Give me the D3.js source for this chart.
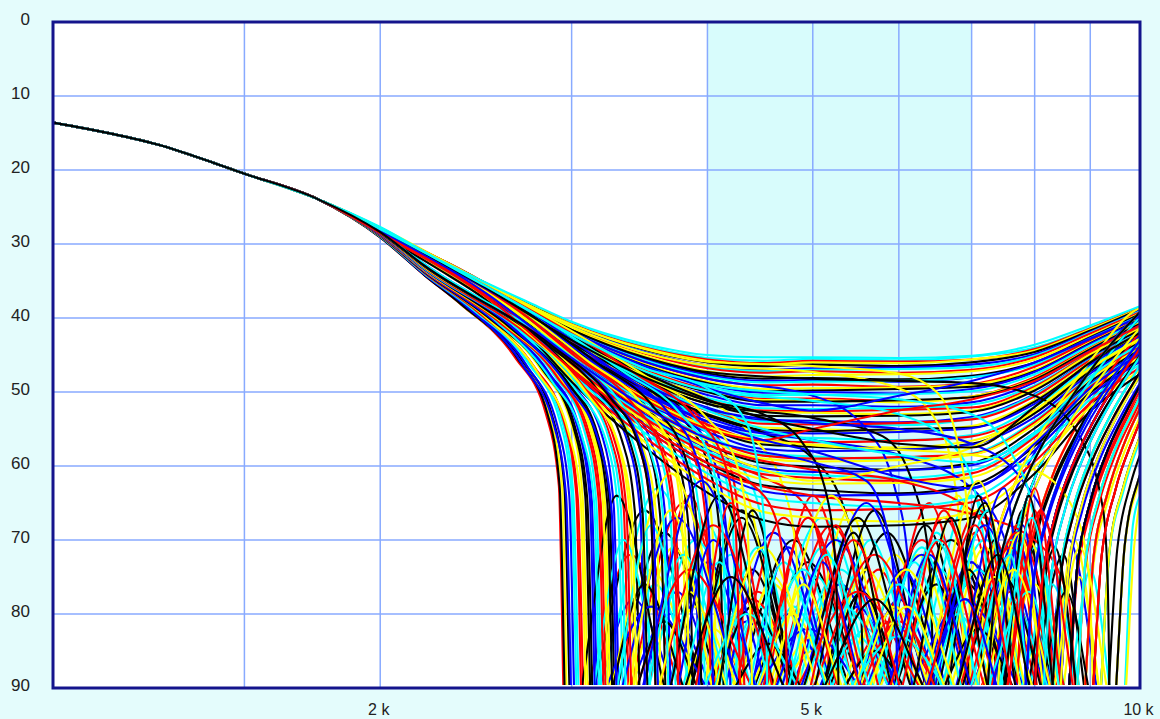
<!DOCTYPE html>
<html>
<head>
<meta charset="utf-8">
<script src="https://cdn.jsdelivr.net/npm/d3@7"></script>
<style>
  html, body { margin: 0; padding: 0; background: #e4fcfc; }
  svg { display: block; }
  .tick-y { font-family: 'Liberation Sans', Arial, sans-serif; font-size: 17px; fill: #222; }
  .tick-x { font-family: 'Liberation Sans', Arial, sans-serif; font-size: 16px; fill: #222; }
</style>
</head>
<body>
<div id="chart"></div>
<script>
// attenuation in dB (0 at top), frequency in kHz on a log axis
const yTicks = [0, 10, 20, 30, 40, 50, 60, 70, 80, 90];
const xTicks = [2, 5, 10];
const xTickLabels = ['2 k', '5 k', '10 k'];
const gridKHz = [1.5, 2, 3, 4, 5, 6, 7, 8, 9];
const bandKHz = [4, 7];
const palette = ['#ff0000', '#0000ff', '#ffff00', '#00ffff', '#000000'];

// shared passband part (all runs overlap here)
const headKHz = [1.0, 1.25, 1.5, 1.75];
const headDb = [13.6, 16.6, 20.5, 23.9];

// runs without a notch in view
const smoothKHz = [2.0, 2.25, 2.5, 2.75, 3.0, 3.5, 4.0, 4.5, 5.0, 6.0, 7.0, 8.0, 9.0, 10.0];
const smoothDb = [
  [27.7,31.9,35.2,38.0,40.5,43.5,45.0,45.3,45.3,45.4,45.1,43.6,41.0,38.4],
  [27.8,32.0,35.3,38.1,40.7,43.8,45.4,45.8,45.5,45.7,45.2,44.0,41.3,38.5],
  [27.8,32.0,35.3,38.2,40.8,44.0,45.6,46.1,45.8,45.9,45.6,44.2,41.4,38.6],
  [27.8,32.1,35.3,38.2,40.9,44.1,45.8,46.3,46.0,46.1,45.6,44.4,41.5,38.7],
  [27.9,32.1,35.3,38.3,41.0,44.3,46.0,46.5,46.3,46.5,46.0,44.6,41.7,38.8],
  [27.9,32.1,35.4,38.4,41.1,44.6,46.4,47.0,46.8,46.7,46.3,44.9,41.9,39.0],
  [27.9,32.1,35.4,38.4,41.2,44.7,46.6,47.2,47.0,46.9,46.6,45.1,42.0,39.1],
  [27.9,32.1,35.4,38.4,41.3,44.8,46.8,47.4,47.2,47.4,47.0,45.3,42.1,39.2],
  [27.9,32.1,35.5,38.5,41.4,45.1,47.2,47.9,47.7,47.6,47.2,45.6,42.4,39.4],
  [28.0,32.2,35.5,38.6,41.6,45.4,47.5,48.2,48.1,48.3,47.8,46.0,42.6,39.5],
  [27.9,32.2,35.5,38.7,41.7,45.5,47.7,48.5,48.4,48.6,48.0,46.2,42.7,39.7],
  [28.0,32.2,35.6,38.7,41.8,45.7,47.9,48.7,48.6,48.5,48.0,46.3,42.8,39.7],
  [28.0,32.2,35.6,38.8,41.9,45.9,48.2,49.1,49.0,49.3,48.9,46.6,43.0,39.9],
  [28.0,32.2,35.7,38.9,42.1,46.2,48.6,49.6,49.5,49.4,49.0,47.0,43.3,40.1],
  [28.0,32.2,35.7,39.0,42.2,46.4,48.8,49.9,49.8,49.6,49.3,47.2,43.4,40.2],
  [28.0,32.3,35.7,39.0,42.3,46.5,49.0,50.1,50.0,50.2,49.6,47.3,43.5,40.3],
  [28.1,32.3,35.7,39.1,42.4,46.7,49.3,50.4,50.4,50.3,49.9,47.6,43.7,40.5],
  [28.1,32.3,35.8,39.2,42.6,47.0,49.7,50.9,50.9,51.2,50.6,48.0,44.0,40.7],
  [28.0,32.3,35.8,39.2,42.6,47.2,49.9,51.1,51.1,51.4,50.6,48.2,44.1,40.7],
  [28.1,32.3,35.8,39.3,42.7,47.3,50.0,51.3,51.3,51.1,50.7,48.3,44.2,40.8],
  [28.1,32.3,35.9,39.4,42.9,47.6,50.4,51.8,51.8,52.0,51.4,48.7,44.4,41.0],
  [28.1,32.4,35.9,39.5,43.1,47.9,50.8,52.2,52.3,52.2,51.7,49.1,44.7,41.2],
  [28.1,32.4,36.0,39.5,43.2,48.1,51.1,52.5,52.6,52.4,52.1,49.3,44.8,41.3],
  [28.1,32.4,36.0,39.6,43.2,48.2,51.2,52.7,52.8,53.0,52.5,49.5,44.9,41.4],
  [28.1,32.4,36.0,39.7,43.4,48.5,51.6,53.2,53.3,53.2,52.7,49.8,45.2,41.6],
  [28.2,32.4,36.1,39.8,43.6,48.8,52.1,53.8,53.9,54.1,53.4,50.3,45.5,41.9],
  [28.2,32.5,36.1,39.8,43.7,49.0,52.3,54.0,54.1,54.5,53.6,50.4,45.6,41.9],
  [28.2,32.5,36.1,39.9,43.8,49.1,52.5,54.3,54.4,54.2,53.7,50.6,45.7,42.1],
  [28.2,32.5,36.2,40.0,44.0,49.5,53.0,54.8,55.0,55.3,54.6,51.1,46.0,42.3],
  [28.2,32.5,36.2,40.1,44.1,49.7,53.2,55.1,55.3,55.0,54.8,51.3,46.2,42.4],
  [28.2,32.5,36.3,40.1,44.2,49.9,53.5,55.4,55.6,55.4,54.9,51.6,46.3,42.5],
  [28.2,32.6,36.3,40.2,44.4,50.2,54.0,56.0,56.2,56.5,55.8,52.0,46.6,42.8],
  [28.3,32.6,36.4,40.4,44.6,50.6,54.4,56.6,56.8,56.6,56.0,52.5,46.9,43.0],
  [28.3,32.6,36.4,40.4,44.7,50.8,54.7,56.8,57.1,57.5,56.6,52.7,47.1,43.1],
  [28.3,32.6,36.4,40.5,44.8,50.9,54.9,57.1,57.4,57.8,57.0,52.9,47.2,43.3],
  [28.3,32.7,36.5,40.6,45.0,51.3,55.4,57.7,58.0,57.8,57.1,53.4,47.5,43.5],
  [28.3,32.7,36.6,40.7,45.3,51.7,56.0,58.4,58.7,59.1,58.3,53.9,47.9,43.8],
  [28.3,32.7,36.6,40.8,45.4,51.9,56.2,58.6,59.0,58.8,58.4,54.1,48.0,43.9],
  [28.4,32.7,36.6,40.9,45.5,52.1,56.5,59.0,59.4,59.2,58.5,54.4,48.2,44.1],
  [28.4,32.8,36.7,41.0,45.8,52.6,57.1,59.6,60.1,60.5,59.6,54.9,48.6,44.3],
  [28.4,32.8,36.8,41.2,46.0,53.0,57.6,60.3,60.8,60.6,59.9,55.5,48.9,44.6],
  [28.4,32.8,36.8,41.2,46.2,53.2,58.0,60.7,61.2,61.6,60.6,55.8,49.1,44.8],
  [28.5,32.8,36.9,41.3,46.3,53.5,58.3,61.1,61.6,62.0,61.0,56.1,49.3,45.0],
  [28.5,32.9,36.9,41.5,46.6,53.9,58.9,61.8,62.4,62.3,61.5,56.7,49.7,45.3],
  [28.5,32.9,37.0,41.6,46.9,54.4,59.6,62.6,63.2,63.7,62.6,57.3,50.1,45.6],
  [28.6,33.0,37.1,41.8,47.2,54.9,60.2,63.4,64.0,63.9,63.0,57.9,50.5,45.9],
  [28.6,33.0,37.2,42.0,47.5,55.5,61.0,64.3,65.0,65.5,64.3,58.6,51.0,46.3],
  [28.6,33.1,37.3,42.2,47.9,56.1,61.8,65.2,66.0,65.8,64.9,59.4,51.5,46.7],
  [28.7,33.1,37.4,42.4,48.2,56.7,62.6,66.2,67.0,67.5,66.2,60.1,52.0,47.1],
  [28.7,33.2,37.5,42.6,48.6,57.4,63.6,67.3,68.2,68.0,67.0,61.0,52.6,47.6],
  [28.0,32.2,35.6,38.8,42.0,46.5,49.5,51.5,52.5,50.5,48.5,46.0,42.8,39.8],
  [28.1,32.3,35.8,39.2,42.8,48.5,52.5,55.0,56.5,58.5,59.5,55.5,48.0,43.5],
  [28.2,32.5,36.2,40.2,44.5,51.0,55.0,56.5,55.0,52.5,51.0,48.5,44.5,41.0],
  [28.3,32.6,36.4,40.6,45.2,52.5,57.5,60.5,62.0,60.0,57.5,52.5,46.8,42.8],
  [28.1,32.3,35.7,39.0,42.5,47.5,51.0,53.5,55.0,57.0,57.5,52.0,46.0,42.0],
  [28.2,32.4,36.0,39.7,43.8,50.0,54.0,56.5,58.0,61.5,63.0,57.0,49.5,44.8]
];

// runs with notches, flat kHz,dB pairs; 93..98 = notch floor below the visible range
const notchRuns = [
  [2.0,29.1,2.2,34.3,2.37,38.1,2.66,45.3,2.84,52.9,2.92,62.7,2.96,97,3.4,72,3.9,93,4.45,77,5.05,93,5.75,74,6.5,93,7.05,69,7.6,97,7.83,75.5,8.06,67.1,8.36,60.3,8.74,54.6,9.12,50,9.5,46.2,9.88,42.9,10,41.8],
  [2.0,29.0,2.2,34.2,2.38,38.3,2.68,45.5,2.86,53.1,2.94,62.9,2.98,97,5.0,98,7.3,97,7.52,76,7.74,67.7,8.03,61.1,8.4,55.4,8.76,51,9.13,47.2,9.49,43.9,10,39.8],
  [2.0,29.0,2.2,34.2,2.4,38.5,2.7,45.7,2.88,53.3,2.955,63,3.0,97,3.5,66,4.1,93,4.8,70,5.6,93,6.35,68,7.2,93,7.8,66,8.5,97,8.76,73.3,9.01,64.6,9.35,57.7,9.78,51.8,10,49.1],
  [2.0,28.9,2.2,34.1,2.42,38.7,2.73,46.5,2.91,54.5,2.985,64,3.03,97,3.42,78,3.85,93,4.35,81,4.9,93,5.5,79,6.2,93,6.95,75,7.9,97,8.14,74.9,8.37,66.3,8.69,59.5,9.09,53.6,9.48,49.1,9.88,45.2,10,44.1],
  [2.0,28.9,2.2,34.0,2.45,39.1,2.75,46.3,2.94,53.9,3.01,63.6,3.06,97,3.6,63,4.3,93,5.1,67,6.0,93,7.0,64,8.2,97,8.45,74.1,8.69,65.5,9.02,58.6,9.43,52.7,9.84,48.1,10,46.4],
  [2.0,29.0,2.2,34.0,2.47,39.3,2.78,47,2.97,55,3.04,64.5,3.09,97,6.0,98,7.0,97,7.21,76.8,7.42,68.2,7.7,61.8,8.05,56.3,8.4,51.9,8.75,48.2,9.1,44.9,9.8,39.4,10,38.6],
  [2.0,28.9,2.2,33.9,2.5,39.7,2.81,46.9,3.0,54.5,3.07,64,3.12,97,3.55,74,4.05,93,4.6,76,5.25,93,5.95,72,6.75,93,7.65,73,8.8,97,9.06,72.5,9.33,63.8,9.68,56.8,10,52.2],
  [2.0,28.8,2.2,33.8,2.52,39.9,2.84,47.2,3.02,54.6,3.1,64.2,3.15,97,3.65,69,4.25,93,4.95,73,5.75,93,6.7,70,7.9,97,8.14,76,8.37,67.5,8.69,60.5,9.09,54.6,9.48,50,9.88,46.2,10,45],
  [2.0,28.8,2.2,33.8,2.54,40.2,2.86,47.4,3.05,54.9,3.13,64.4,3.18,97,3.7,80,4.3,97,6.0,98,7.3,97,7.52,77,7.74,69,8.03,62.5,8.4,56.8,8.76,52.3,9.13,48.4,9.49,45,10,41],
  [2.0,28.8,2.2,33.7,2.57,40.5,2.89,47.7,3.08,55.1,3.16,64.6,3.21,97,3.58,76,4.0,93,4.47,79,5.0,93,5.6,82,6.25,93,7.0,78,7.8,93,8.3,74,9.1,97,9.37,71.7,9.65,62.9,10,56],
  [2.0,28.8,2.2,33.6,2.59,40.8,2.92,48.0,3.11,55.3,3.19,64.8,3.24,97,3.8,65,4.45,93,5.2,68,6.1,93,7.1,66,8.5,97,8.76,74.5,9.01,66,9.35,59,9.78,53,10,50.5],
  [2.0,28.7,2.2,33.6,2.62,41.1,2.94,48.2,3.14,55.5,3.22,65,3.27,97,3.72,71,4.25,93,4.85,75,5.5,93,6.25,72,7.05,93,7.7,68,8.2,97,8.45,74.1,8.69,65.5,9.02,58.6,9.43,52.7,9.84,48.1,10,46.4],
  [2.0,28.7,2.2,33.5,2.64,41.3,2.97,48.5,3.17,55.7,3.25,65.2,3.3,97,5.5,98,7.6,97,7.83,77,8.06,68.5,8.36,61.8,8.74,56,9.12,51.4,9.5,47.6,9.88,44.3,10,43.2],
  [2.0,28.7,2.2,33.5,2.66,41.5,3.0,48.8,3.2,55.9,3.28,65.4,3.33,97,3.75,77,4.2,93,4.75,80,5.35,93,6.0,78,6.75,93,7.6,75,8.5,97,8.76,73.3,9.01,64.6,9.35,57.7,9.78,51.8,10,49.1],
  [2.0,28.6,2.2,33.4,2.69,41.8,3.02,49.5,3.23,56.8,3.31,66,3.36,97,3.9,70,4.55,93,5.3,74,6.2,93,7.2,70,8.8,97,9.06,72.5,9.33,63.8,9.68,56.8,10,52.2],
  [2.0,28.6,2.2,33.3,2.72,42.1,3.06,49.2,3.26,56.3,3.35,65.8,3.4,97,3.85,64,4.35,93,4.95,67,5.6,93,6.4,65,7.3,97,7.52,76,7.74,67.7,8.03,61.1,8.4,55.4,8.76,51,9.13,47.2,9.49,43.9,10,39.8],
  [2.0,28.6,2.2,33.3,2.75,42.5,3.1,49.5,3.3,56.5,3.39,66,3.44,97,3.9,79,4.4,93,5.0,83,5.65,93,6.4,80,7.25,93,8.0,76,8.8,97,9.06,73.5,9.33,65,9.68,58,10,53.4],
  [2.0,28.5,2.2,33.2,2.78,42.8,3.13,49.7,3.34,56.7,3.43,66.2,3.48,97,6.0,98,7.9,97,8.14,74.9,8.37,66.3,8.69,59.5,9.09,53.6,9.48,49.1,9.88,45.2,10,44.1],
  [2.0,28.5,2.2,33.1,2.82,43.2,3.17,50,3.38,56.9,3.47,66.4,3.52,97,4.0,73,4.6,93,5.3,76,6.1,93,7.0,73,8.1,93,8.6,70,9.4,97,9.68,70.8,9.96,62,10,61.2],
  [2.0,28.5,2.2,33.1,2.85,43.5,3.2,50.2,3.42,57.1,3.51,66.6,3.56,97,4.0,68,4.5,93,5.1,71,5.75,93,6.5,69,7.3,93,7.9,65,8.5,97,8.76,73.3,9.01,64.6,9.35,57.7,9.78,51.8,10,49.1],
  [2.0,28.4,2.2,33.0,2.88,43.8,3.24,50.4,3.46,57.3,3.55,66.7,3.6,97,4.2,75,4.9,93,5.7,78,6.6,93,7.4,72,8.2,97,8.45,75,8.69,66.5,9.02,59.6,9.43,53.7,9.84,49,10,47.3],
  [2.0,28.4,2.2,32.9,2.91,44.1,3.28,50.7,3.49,57.5,3.59,66.9,3.64,97,4.05,82,4.5,93,5.0,85,5.55,93,6.15,83,6.8,93,7.55,79,8.4,93,8.8,75,9.4,97,9.68,71,9.96,62.5,10,61.5],
  [2.0,28.4,2.2,32.9,2.94,44.4,3.31,50.9,3.53,57.6,3.62,67,3.68,97,4.3,66,5.0,93,5.85,69,6.8,93,7.35,70,7.9,97,8.14,74.9,8.37,66.3,8.69,59.5,9.09,53.6,9.48,49.1,9.88,45.2,10,44.1],
  [2.0,28.3,2.2,32.8,2.98,44.8,3.35,51,3.57,57.8,3.66,67.2,3.72,97,6.0,98,7.0,97,7.21,78,7.42,69.5,7.7,63,8.05,57.5,8.4,53,8.75,49.4,9.1,46,9.8,40.5,10,39.6],
  [2.0,28.3,2.2,32.8,3.01,45.1,3.38,51.2,3.61,58,3.7,67.3,3.76,97,4.2,72,4.7,93,5.25,75,5.85,93,6.55,74,7.3,93,8.0,71,8.8,97,9.06,72.5,9.33,63.8,9.68,56.8,10,52.2],
  [2.0,28.3,2.5,35.4,3.04,45.3,3.42,51.4,3.65,58.1,3.74,67.4,3.8,97,4.4,78,5.1,93,5.9,81,6.8,93,7.6,77,8.5,97,8.76,73.3,9.01,64.6,9.35,57.7,9.78,51.8,10,49.1],
  [2.0,28.3,2.5,35.4,3.08,45.6,3.47,51.7,3.7,58.3,3.79,67.6,3.85,97,4.3,63,4.8,93,5.4,66,6.05,93,6.8,64,7.6,97,7.83,75.5,8.06,67.1,8.36,60.3,8.74,54.6,9.12,50,9.5,46.2,9.88,42.9,10,41.8],
  [2.0,28.2,2.5,35.4,3.12,45.9,3.51,51.9,3.74,58.4,3.84,67.7,3.9,97,4.4,74,4.95,93,5.55,77,6.2,93,6.95,76,7.8,93,8.5,72,9.1,97,9.37,71.7,9.65,62.9,10,56],
  [2.0,28.2,2.5,35.4,3.16,46.1,3.56,52,3.79,58.6,3.89,67.8,3.95,97,4.6,69,5.4,93,6.3,72,7.3,97,7.52,76,7.74,67.7,8.03,61.1,8.4,55.4,8.76,51,9.13,47.2,9.49,43.9,10,39.8],
  [2.0,28.2,2.5,35.4,3.2,46.4,3.6,52.2,3.84,58.7,3.94,67.9,4.0,97,4.45,80,4.95,93,5.5,83,6.1,93,6.8,80,7.6,93,8.3,76,9.1,97,9.37,72,9.65,63.5,10,56.5],
  [2.0,28.2,2.5,35.4,3.24,46.6,3.65,52.4,3.89,58.8,3.99,68,4.05,97,4.7,67,5.45,93,6.3,70,7.2,93,7.7,68,8.2,97,8.45,74.1,8.69,65.5,9.02,58.6,9.43,52.7,9.84,48.1,10,46.4],
  [2.0,28.1,2.5,35.3,3.28,46.9,3.69,52.6,3.94,58.9,4.04,68,4.1,97,4.6,75,5.15,93,5.8,78,6.5,93,7.3,74,8.2,93,8.7,70,9.4,97,9.68,70.8,9.96,62,10,61.2],
  [2.0,28.1,2.5,35.3,3.33,47.1,3.74,52.7,3.99,59,4.1,68.1,4.16,97,6.0,98,7.6,97,7.83,76,8.06,68,8.36,61.3,8.74,55.6,9.12,51,9.5,47.2,9.88,43.9,10,42.8],
  [2.0,28.1,2.5,35.3,3.38,47.4,3.8,52.9,4.05,59,4.16,68.2,4.22,97,4.75,71,5.35,93,6.05,74,6.85,93,7.7,70,8.5,97,8.76,73.3,9.01,64.6,9.35,57.7,9.78,51.8,10,49.1],
  [2.0,28.0,2.5,35.3,3.42,47.6,3.85,53,4.11,59.1,4.22,68.2,4.28,97,4.8,79,5.4,93,6.05,82,6.8,93,7.6,78,8.5,93,9.0,74,9.6,97,9.85,68,10,64],
  [2.0,28.0,2.5,35.3,3.48,47.9,3.92,53.2,4.18,59.2,4.28,68.3,4.35,97,5.0,64,5.75,93,6.6,67,7.6,93,8.0,66,8.5,97,8.76,74,9.01,65.5,9.35,58.5,9.78,52.5,10,49.8],
  [2.0,28.2,2.5,35.9,3.0,42.8,3.5,47.8,4.0,51.0,4.4,56,4.7,63,4.83,72,4.9,97,5.6,74,6.4,93,7.2,71,8.2,97,8.45,74.1,8.69,65.5,9.02,58.6,9.43,52.7,9.84,48.1,10,46.4],
  [2.0,28.3,2.5,36.2,3.0,44.0,3.5,49.5,4.0,53.0,4.5,55.5,5.0,59,5.35,66,5.52,75,5.6,97,6.5,76,7.3,97,7.52,76,7.74,67.7,8.03,61.1,8.4,55.4,8.76,51,9.13,47.2,9.49,43.9,10,39.8],
  [2.0,28.0,2.5,35.6,3.0,41.9,3.5,45.9,4.0,48.2,5.0,50.5,5.6,55,5.95,63,6.11,72,6.2,97,7.0,73,7.9,97,8.14,74.9,8.37,66.3,8.69,59.5,9.09,53.6,9.48,49.1,9.88,45.2,10,44.1],
  [2.0,28.3,2.5,36.5,3.0,45.0,3.5,51.3,4.0,55.5,4.3,60,4.48,67,4.55,75,4.6,97,5.35,79,6.2,93,7.1,74,8.2,97,8.45,74.1,8.69,65.5,9.02,58.6,9.43,52.7,9.84,48.1,10,46.4],
  [2.0,28.5,2.5,36.9,3.0,46.6,3.5,53.9,4.0,58.9,4.5,61.5,4.9,65,5.08,71,5.15,79,5.2,97,6.0,81,6.9,93,7.8,77,8.8,97,9.06,72.5,9.33,63.8,9.68,56.8,10,52.2],
  [2.0,27.9,2.5,35.4,3.0,41.2,3.5,44.7,4.0,46.4,5.0,47.3,6.0,49.5,6.5,54,6.75,62,6.85,72,6.9,97,7.9,70,8.8,97,9.06,72.5,9.33,63.8,9.68,56.8,10,52.2],
  [2.0,28.1,2.5,36.0,3.0,43.4,3.5,48.5,4.0,51.6,5.0,53.5,5.8,56,6.2,63,6.4,73,6.5,97,7.5,75,8.5,97,8.76,73.3,9.01,64.6,9.35,57.7,9.78,51.8,10,49.1],
  [2.0,28.2,2.5,36.3,3.0,44.4,3.5,50.2,4.0,54.0,5.0,56.5,6.0,58.5,7.0,63,7.55,71,7.8,80,7.9,97,8.14,74.9,8.37,66.3,8.69,59.5,9.09,53.6,9.48,49.1,9.88,45.2,10,44.1],
  [2.0,28.1,2.5,35.8,3.0,42.6,3.5,47.2,4.0,49.8,5.0,51.2,6.0,53,6.8,58,7.15,68,7.25,78,7.3,97,7.52,76,7.74,67.7,8.03,61.1,8.4,55.4,8.76,51,9.13,47.2,9.49,43.9,10,39.8],
  [2.0,28.4,2.5,36.7,3.0,45.8,3.5,52.6,4.0,57.1,5.0,60.5,6.0,62.0,7.0,66,7.4,74,7.54,82,7.6,97,7.83,75.5,8.06,67.1,8.36,60.3,8.74,54.6,9.12,50,9.5,46.2,9.88,42.9,10,41.8],
  [2.0,28.3,2.5,36.4,3.0,44.7,3.5,50.8,4.0,54.8,5.0,57.2,6.0,57.8,7.0,58.5,8.0,60.5,8.7,66,8.98,75,9.1,97,9.37,71.7,9.65,62.9,10,56],
  [2.0,28.0,2.5,35.5,3.0,41.6,3.5,45.3,4.0,47.3,5.0,48.2,6.0,48.5,7.0,48.8,8.0,50.5,8.8,56,9.25,66,9.34,76,9.4,97,9.68,70.8,9.96,62,10,61.2],
  [2.0,28.2,2.5,36.1,3.0,43.8,3.5,49.0,4.0,52.3,5.0,54.2,6.0,55,7.0,57,7.8,62,8.3,70,8.43,80,8.5,97,8.76,73.3,9.01,64.6,9.35,57.7,9.78,51.8,10,49.1],
  [2.0,28.0,2.5,35.7,3.0,42.3,3.5,46.6,4.0,49.0,5.0,50.3,6.0,51,7.0,53,7.6,58,8.0,67,8.13,77,8.2,97,8.45,74.1,8.69,65.5,9.02,58.6,9.43,52.7,9.84,48.1,10,46.4],
  [2.0,28.6,2.5,37.1,3.0,47.2,3.5,54.9,4.0,60.2,5.0,64,6.0,65,7.0,66.5,8.0,70,8.6,78,8.8,97,9.06,72.5,9.33,63.8,9.68,56.8,10,52.2],
  [2.0,27.8,2.5,35.3,3.0,40.9,3.5,44.2,4.0,45.9,5.0,46.5,6.0,47.5,6.5,50,6.8,57,6.95,68,7.0,97,7.21,76.8,7.42,68.2,7.7,61.8,8.05,56.3,8.4,51.9,8.75,48.2,9.1,44.9,9.8,39.4,10,38.6],
  [2.0,29.1,2.2,34.3,2.376,38.2,2.673,45.4,2.851,53,2.925,62.8,2.97,97,3.3,64,3.75,93,4.3,67,4.95,93,5.7,66,6.55,93,7.1,64,7.75,97,7.98,75.3,8.22,66.7,8.53,59.9,8.91,54,9.3,49.5,9.69,45.7,10,43],
  [2.0,29.0,2.2,34.2,2.408,38.6,2.709,46.5,2.89,54.5,2.965,64,3.01,97,3.55,79,4.2,93,4.95,82,5.85,93,6.9,78,8.35,97,8.6,73.7,8.85,65,9.19,58.1,9.6,52.3,10,47.8],
  [2.0,29.0,2.2,34.1,2.436,38.9,2.74,46.2,2.923,53.7,2.999,63.5,3.045,97,3.35,70,3.7,93,4.1,73,4.55,93,5.05,75,5.6,93,6.2,73,6.9,93,7.6,70,8.65,97,8.91,72.9,9.17,64.2,9.52,57.2,9.95,51.3,10,50.6],
  [2.0,28.9,2.2,34.0,2.46,39.2,2.768,46.5,2.952,54,3.029,63.7,3.075,97,5.5,98,7.15,97,7.36,76.5,7.58,68,7.87,61.4,8.22,55.9,8.58,51.5,8.94,47.7,9.3,44.4,10,39.2],
  [2.0,28.9,2.2,33.9,2.484,39.5,2.795,47.5,2.981,55.5,3.058,64.5,3.105,97,3.7,61,4.4,93,5.2,64,6.15,93,7.1,62,8.05,97,8.29,74.5,8.53,65.9,8.86,59,9.26,53.1,9.66,48.6,10,45.2],
  [2.0,28.9,2.2,33.9,2.508,39.8,2.822,47,3.01,54.6,3.088,64.1,3.135,97,3.5,76,3.92,93,4.4,79,4.95,93,5.55,77,6.2,93,6.95,74,7.75,93,8.35,71,8.95,97,9.22,72.1,9.49,63.3,9.85,56.4,10,54],
  [2.0,28.8,2.2,33.8,2.532,40.1,2.849,47.3,3.038,54.8,3.118,64.3,3.165,97,3.75,67,4.45,93,5.25,70,6.2,93,7.2,68,8.35,97,8.6,74.5,8.85,66,9.19,59,9.6,53.3,10,48.8],
  [2.0,28.8,2.2,33.7,2.556,40.4,2.876,48.5,3.067,56,3.147,65,3.195,97,3.55,68,3.95,93,4.45,71,5.0,93,5.65,70,6.4,93,7.25,66,7.75,97,7.98,75.3,8.22,66.7,8.53,59.9,8.91,54,9.3,49.5,9.69,45.7,10,43],
  [2.0,28.8,2.2,33.7,2.58,40.7,2.903,47.8,3.096,55.2,3.177,64.7,3.225,97,3.85,74,4.6,93,5.5,77,6.6,93,7.6,71,8.65,97,8.91,72.9,9.17,64.2,9.52,57.2,9.95,51.3,10,50.6],
  [2.0,28.7,2.2,33.6,2.604,40.9,2.93,48.1,3.125,55.4,3.206,64.9,3.255,97,3.7,66,4.2,97,6.5,98,7.3,97,7.52,77.5,7.74,69,8.03,62.5,8.4,57,8.76,52.5,9.13,48.7,9.49,45.4,10,41.3],
  [2.0,28.7,2.2,33.5,2.628,41.2,2.957,48.4,3.154,55.6,3.236,65.1,3.285,97,3.65,81,4.05,93,4.55,84,5.1,93,5.7,85,6.35,93,7.1,82,7.95,93,8.55,77,9.25,97,9.53,71.2,9.8,62.5,10,58.5],
  [2.0,28.7,2.2,33.5,2.652,41.4,2.984,49.5,3.182,57,3.265,66,3.315,97,3.95,62,4.7,93,5.6,65,6.6,93,7.5,63,8.05,97,8.29,74.5,8.53,65.9,8.86,59,9.26,53.1,9.66,48.6,10,45.2],
  [2.0,28.6,2.2,33.4,2.704,41.9,3.042,49.1,3.245,56.2,3.329,65.65,3.38,97,3.8,72,4.3,93,4.9,74,5.55,93,6.3,71,7.15,97,7.36,76.5,7.58,68,7.87,61.4,8.22,55.9,8.58,51.5,8.94,47.7,9.3,44.4,10,39.2],
  [2.0,28.6,2.2,33.3,2.736,42.3,3.078,49.35,3.283,56.4,3.369,65.85,3.42,97,4.05,68,4.8,93,5.7,72,6.75,93,7.7,69,8.95,97,9.22,72.1,9.49,63.3,9.85,56.4,10,54],
  [2.0,28.5,2.2,33.2,2.768,42.65,3.114,50.6,3.322,57.6,3.408,66.5,3.46,97,3.85,77,4.3,93,4.8,80,5.35,93,5.95,79,6.6,93,7.35,75,8.2,93,8.8,71,9.6,97,9.89,70,10,64.5],
  [2.0,28.5,2.2,33.1,2.832,43.3,3.186,50.1,3.398,57,3.487,66.45,3.54,97,4.1,64,4.75,93,5.5,67,6.35,93,7.2,65,7.9,97,8.14,75.5,8.37,67,8.69,60.3,9.09,54.5,9.48,50,9.88,46.2,10,45],
  [2.0,28.4,2.2,33.0,2.896,44.0,3.258,50.55,3.475,57.4,3.566,66.75,3.62,97,4.05,70,4.55,93,5.1,73,5.7,93,6.4,72,7.2,93,7.8,68,8.35,97,8.6,73.7,8.85,65,9.19,58.1,9.6,52.3,10,47.8],
  [2.0,28.4,2.2,32.9,2.96,44.6,3.33,51.5,3.552,58.5,3.645,67.5,3.7,97,4.35,80,5.1,93,6.0,83,7.0,93,7.9,77,8.65,97,8.91,72.9,9.17,64.2,9.52,57.2,9.95,51.3,10,50.6],
  [2.0,28.3,2.5,35.6,3.024,45.2,3.402,51.3,3.629,58,3.723,67.35,3.78,97,4.2,65,4.7,93,5.25,68,5.9,93,6.6,66,7.45,93,8.0,63,8.65,97,8.91,73.5,9.17,65,9.52,58,9.95,52,10,51.3],
  [2.0,28.3,2.5,35.5,3.096,45.7,3.483,51.7,3.715,58.35,3.812,67.6,3.87,97,4.5,71,5.25,93,6.1,74,7.0,93,7.75,69,8.35,97,8.6,73.7,8.85,65,9.19,58.1,9.6,52.3,10,47.8],
  [2.0,28.2,2.5,35.5,3.176,46.2,3.573,52.1,3.811,58.6,3.91,67.8,3.97,97,4.4,66,4.9,93,5.45,69,6.05,93,6.7,67,7.4,93,7.9,64,8.5,97,8.76,73.3,9.01,64.6,9.35,57.7,9.78,51.8,10,49.1],
  [2.0,28.2,2.5,35.4,3.256,46.7,3.663,52.4,3.907,58.8,4.009,68,4.07,97,6.0,98,7.75,97,7.98,75.8,8.22,67.3,8.53,60.6,8.91,54.8,9.3,50.3,9.69,46.5,10,43.8],
  [2.0,28.1,2.5,35.4,3.352,47.3,3.771,52.8,4.022,59,4.127,68.1,4.19,97,4.7,73,5.3,93,6.0,76,6.8,93,7.6,72,8.05,97,8.29,74.5,8.53,65.9,8.86,59,9.26,53.1,9.66,48.6,10,45.2],
  [2.0,28.0,2.5,35.3,3.448,47.7,3.879,53.05,4.138,59.15,4.245,68.2,4.31,97,4.95,67,5.7,93,6.55,70,7.4,93,8.1,66,8.95,97,9.22,72.1,9.49,63.3,9.85,56.4,10,54],
  [2.0,28.0,2.5,35.3,3.536,48.15,3.978,53.25,4.243,59.2,4.354,68.25,4.42,97,4.9,76,5.45,93,6.1,79,6.85,93,7.65,74,8.65,97,8.91,72.9,9.17,64.2,9.52,57.2,9.95,51.3,10,50.6],
  [2.0,28.1,2.5,35.9,3.0,43,3.5,48,4.0,51.2,4.5,53,4.9,57,5.15,64,5.25,74,5.3,97,6.2,98,7.15,97,7.36,76.5,7.58,68,7.87,61.4,8.22,55.9,8.58,51.5,8.94,47.7,9.3,44.4,10,39.2],
  [2.0,28.3,2.5,36.6,3.0,45.4,3.5,52,4.0,56.3,5.0,59.5,5.6,62,5.88,70,5.96,79,6.0,97,6.9,78,7.75,97,7.98,75.3,8.22,66.7,8.53,59.9,8.91,54,9.3,49.5,9.69,45.7,10,43],
  [2.0,28.0,2.5,35.7,3.0,42.2,3.5,46.8,4.0,49.5,4.3,53,4.45,60,4.52,70,4.55,97,5.15,72,5.8,93,6.5,70,7.3,93,7.95,67,8.65,97,8.91,72.9,9.17,64.2,9.52,57.2,9.95,51.3,10,50.6],
  [2.0,28.5,2.5,37,3.0,46.9,3.5,54.4,4.0,59.6,4.4,62.5,4.62,67,4.71,75,4.75,97,5.45,70,6.2,93,7.05,68,7.9,97,8.14,74.9,8.37,66.3,8.69,59.5,9.09,53.6,9.48,49.1,9.88,45.2,10,44.1]
];

const W = 1160, H = 719;
const plot = { left: 53, right: 1140, top: 22, bottom: 688 };

const svg = d3.select('#chart').append('svg').attr('width', W).attr('height', H);
svg.append('rect').attr('width', W).attr('height', H).attr('fill', '#e4fcfc');

const x = d3.scaleLog().domain([1, 10]).range([plot.left, plot.right]);
const y = d3.scaleLinear().domain([0, 90]).range([plot.top, plot.bottom]);

svg.append('rect')
  .attr('x', plot.left).attr('y', plot.top)
  .attr('width', plot.right - plot.left).attr('height', plot.bottom - plot.top)
  .attr('fill', '#ffffff');

svg.append('rect')
  .attr('x', x(bandKHz[0])).attr('y', plot.top)
  .attr('width', x(bandKHz[1]) - x(bandKHz[0])).attr('height', plot.bottom - plot.top)
  .attr('fill', '#d8fcfc');

const grid = svg.append('g').attr('stroke', '#88aaff').attr('stroke-width', 1.5);
grid.selectAll('line.gx').data(gridKHz).join('line').attr('class', 'gx')
  .attr('x1', d => x(d)).attr('x2', d => x(d))
  .attr('y1', plot.top).attr('y2', plot.bottom);
grid.selectAll('line.gy').data(yTicks.slice(1, -1)).join('line').attr('class', 'gy')
  .attr('x1', plot.left).attr('x2', plot.right)
  .attr('y1', d => y(d)).attr('y2', d => y(d));

svg.append('defs').append('clipPath').attr('id', 'plotclip')
  .append('rect')
  .attr('x', plot.left).attr('y', plot.top)
  .attr('width', plot.right - plot.left).attr('height', plot.bottom - plot.top - 3);

const head = headKHz.map((f, i) => [f, headDb[i]]);
const notchPts = notchRuns.map(flat => {
  const pts = head.slice();
  for (let i = 0; i < flat.length; i += 2) pts.push([flat[i], flat[i + 1]]);
  return pts;
});
const smoothPts = smoothDb.map(row => head.concat(smoothKHz.map((f, i) => [f, row[i]])));

// interleave the two sets so colours mix like the original plot;
// the top envelope (smooth row 0) goes near the end so it stays visible
const runs = [];
for (let i = 0; i < Math.max(notchPts.length, smoothPts.length); i++) {
  if (notchPts[i]) runs.push({ pts: notchPts[i], color: palette[(2 * i) % 5] });
  if (i > 0 && smoothPts[i]) runs.push({ pts: smoothPts[i], color: palette[(2 * i + 1) % 5] });
}
runs.push({ pts: smoothPts[0], color: '#00ffff' });
runs.push({ pts: notchPts[20], color: '#000000' });

const line = d3.line()
  .x(d => x(d[0]))
  .y(d => y(d[1]))
  .curve(d3.curveMonotoneX);

svg.append('g').attr('clip-path', 'url(#plotclip)')
  .selectAll('path').data(runs).join('path')
  .attr('d', d => line(d.pts))
  .attr('fill', 'none')
  .attr('stroke-width', 2.1)
  .attr('stroke', d => d.color);

// frame
svg.append('rect')
  .attr('x', plot.left).attr('y', plot.top)
  .attr('width', plot.right - plot.left).attr('height', plot.bottom - plot.top)
  .attr('fill', 'none').attr('stroke', '#14148c').attr('stroke-width', 3);

// y labels
const yAxis = d3.axisLeft(y).tickValues(yTicks).tickSize(0).tickPadding(0);
const gy = svg.append('g').attr('transform', 'translate(30,-3)').call(yAxis);
gy.select('.domain').remove();
gy.selectAll('text').attr('class', 'tick-y').attr('font-size', null).attr('font-family', null).attr('fill', null);

// x labels
const xAxis = d3.axisBottom(x).tickValues(xTicks).tickSize(0).tickPadding(0)
  .tickFormat((d, i) => xTickLabels[i]);
const gx = svg.append('g').attr('transform', 'translate(-2,704)').call(xAxis);
gx.select('.domain').remove();
gx.selectAll('text').attr('class', 'tick-x').attr('font-size', null).attr('font-family', null).attr('fill', null);
</script>
</body>
</html>
